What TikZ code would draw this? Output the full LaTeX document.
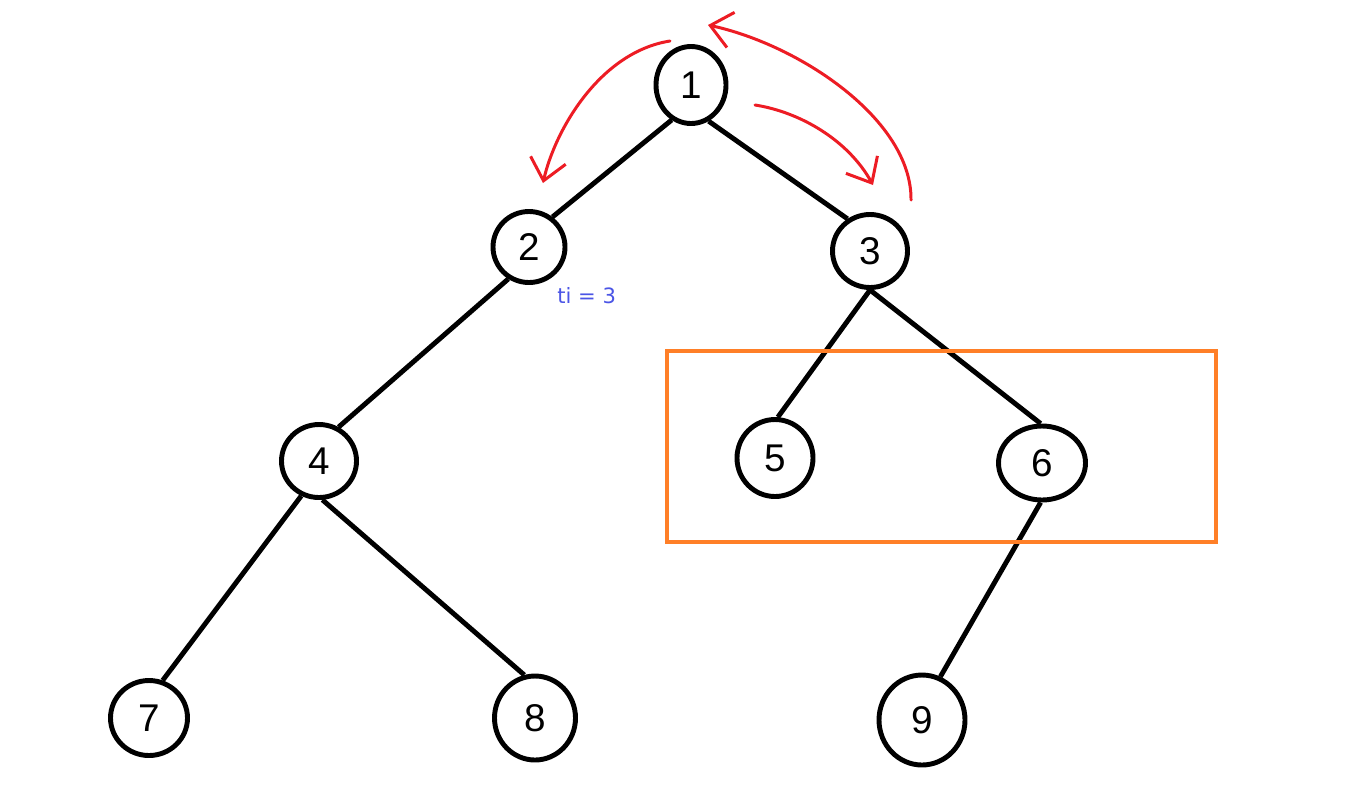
\documentclass[tikz,border=0pt]{standalone}
\usepackage{fontspec}
\usetikzlibrary{shapes.geometric,arrows.meta}
\newfontfamily\digitfont{Liberation Sans}
\newfontfamily\annotfont{DejaVu Sans}
\definecolor{paintred}{HTML}{ED1C24}
\definecolor{paintorange}{HTML}{FF7F27}
\definecolor{annotblue}{HTML}{4B55E6}
\begin{document}
\begin{tikzpicture}[x=0.02cm,y=-0.02cm,
  tn/.style 2 args={ellipse, draw, line width=2.8pt, inner sep=0pt,
    minimum width=#1*0.02cm, minimum height=#2*0.02cm,
    font=\digitfont\fontsize{22}{22}\selectfont},
  edge/.style={line width=2.8pt},
  redarrow/.style={draw=paintred, line width=1.7pt, line cap=round, line join=round,
    -{Straight Barb[length=0.42cm, width=0.72cm, line width=1.7pt]}},
  box/.style={draw=paintorange, line width=2.3pt},
  note/.style={text=annotblue, font=\annotfont\fontsize{12}{12}\selectfont, inner sep=0pt}]
\useasboundingbox[fill=white] (0,0) rectangle (1365,799);
% nodes
\node[tn={70}{77}] (n1) at (691,85) {1};
\node[tn={72}{71}] (n2) at (529,247) {2};
\node[tn={75}{73}] (n3) at (870,251) {3};
\node[tn={75}{73}] (n4) at (319,461) {4};
\node[tn={76}{77}] (n5) at (775,458) {5};
\node[tn={87}{74}] (n6) at (1042,463) {6};
\node[tn={77}{75}] (n7) at (149,718) {7};
\node[tn={81}{84}] (n8) at (535,718) {8};
\node[tn={86}{90}] (n9) at (922,720) {9};
% edges
\draw[edge] (n1.241) -- (n2.52);
\draw[edge] (n1.296) -- (n3.125);
\draw[edge] (n2.237) -- (n4.60);
\draw[edge] (n3.south) -- (n5.86);
\draw[edge] (n3.south) -- (n6.92);
\draw[edge] (n4.243) -- (n7.70);
\draw[edge] (n4.275) -- (n8.104);
\draw[edge] (n6.268) -- (n9.67);
% orange box
\draw[box] (667,351) rectangle (1216,542);
% annotation
\node[note, anchor=west] (ti) at (557,296) {ti = 3};
% red arrows
\coordinate (a1s) at (670,41);
\coordinate (a1e) at (543,183);
\coordinate (a2s) at (755,105);
\coordinate (a2e) at (873,185);
\coordinate (a3s) at (911,200);
\coordinate (a3e) at (708,25);
\draw[redarrow] (a1s) .. controls (600,52) and (555,130) .. (a1e);
\draw[redarrow] (a2s) .. controls (800,112) and (848,140) .. (a2e);
\draw[redarrow] (a3s) .. controls (912,120) and (800,45) .. (a3e);
\end{tikzpicture}
\end{document}
